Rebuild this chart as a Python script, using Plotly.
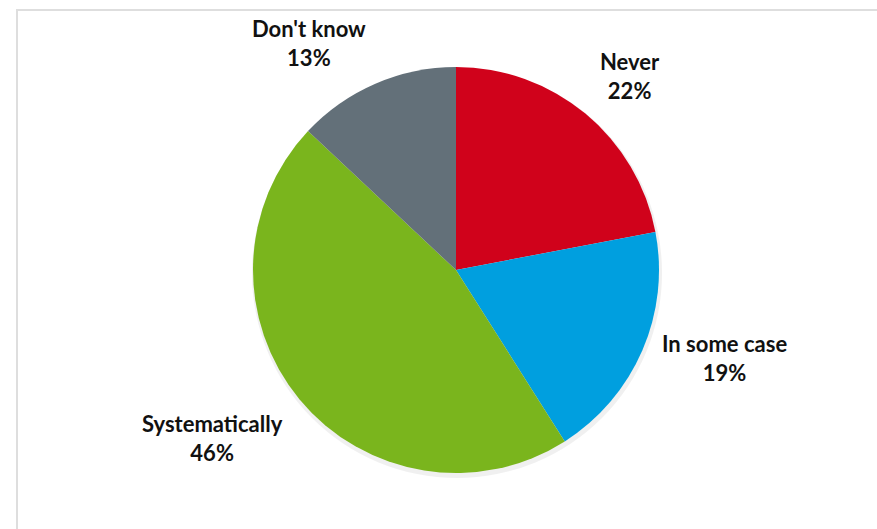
import math
import plotly.graph_objects as go

# Survey answers and their shares (%)
categories = ["Never", "In some case", "Systematically", "Don't know"]
shares = [22, 19, 46, 13]
colors = ["#D0021B", "#009FDF", "#7AB51D", "#637079"]

W, H = 877, 529
CX, CY, R = 456, 270, 203  # pie centre and radius in pixels


def px(x):
    return x / W


def py(y):
    return 1 - y / H


fig = go.Figure()

# soft drop shadow under the pie
fig.add_trace(go.Pie(
    values=[1], marker=dict(colors=["rgba(0,0,0,0.06)"], line=dict(width=0)),
    domain=dict(x=[px(CX - R - 2), px(CX + R + 4)], y=[py(CY + R + 5), py(CY - R + 1)]),
    textinfo="none", hoverinfo="skip", showlegend=False, sort=False,
))

fig.add_trace(go.Pie(
    labels=categories, values=shares,
    marker=dict(colors=colors, line=dict(width=0)),
    sort=False, direction="clockwise", rotation=0,
    textinfo="none", showlegend=False,
    domain=dict(x=[px(CX - R), px(CX + R)], y=[py(CY + R), py(CY - R)]),
))

# outside labels: the nearest corner (or side) of each label box sits on a
# ring just beyond the pie, along the slice's mid angle
total = sum(shares)
cum = 0
for name, v in zip(categories, shares):
    mid = (cum + v / 2) / total * 2 * math.pi
    cum += v
    dx, dy = math.sin(mid), -math.cos(mid)
    lx, ly = CX + 1.095 * R * dx, CY + 1.095 * R * dy
    if abs(dy) < 0.5:
        yanchor, yshift = "middle", 0
    elif dy < 0:
        yanchor, yshift = "bottom", -7
    else:
        yanchor, yshift = "top", 4
    fig.add_annotation(
        x=px(lx), y=py(ly), xref="paper", yref="paper",
        text=f"<b>{name}</b><br><b>{round(v / total * 100)}%</b>",
        showarrow=False, align="center",
        xanchor="left" if dx > 0 else "right",
        yanchor=yanchor, yshift=yshift,
        font=dict(family="Lato", size=22, color="#111111"),
    )

# chart area frame
fig.add_shape(type="rect", xref="paper", yref="paper",
              x0=px(17), x1=px(W + 5), y0=py(H + 5), y1=py(10),
              line=dict(color="#DEDEDE", width=2), fillcolor="rgba(0,0,0,0)")

fig.update_layout(
    width=W, height=H,
    margin=dict(l=0, r=0, t=0, b=0),
    paper_bgcolor="white", plot_bgcolor="white",
)

fig.write_html("out.html")
